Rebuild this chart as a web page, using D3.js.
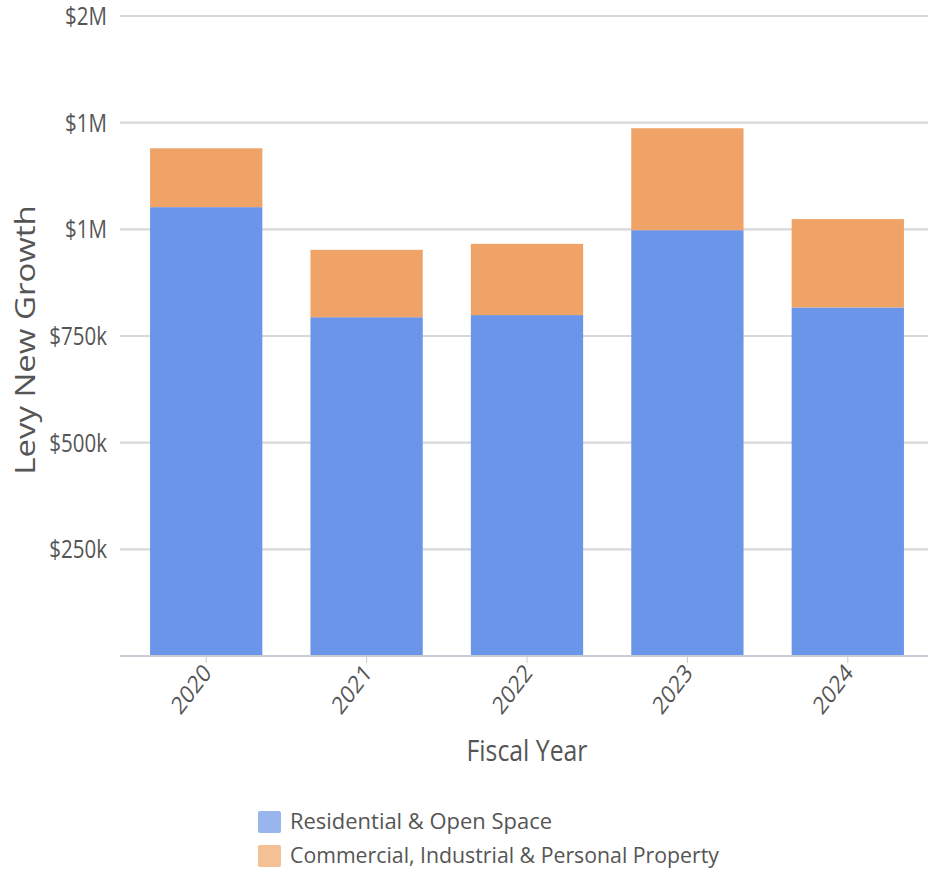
<!DOCTYPE html>
<html>
<head>
<meta charset="utf-8">
<script src="https://cdn.jsdelivr.net/npm/d3@7"></script>
<style>
  html, body { margin: 0; padding: 0; background: #fff; }
  svg { display: block; font-family: "Open Sans", "Noto Sans", sans-serif; }
</style>
</head>
<body>
<svg id="chart" width="928" height="872"></svg>
<script>
// Levy new growth by fiscal year, split by property class
const years = ["2020", "2021", "2022", "2023", "2024"];
const residential = [1052000, 794000, 799000, 998000, 817000];
const commercial = [138000, 158000, 167000, 239000, 207000];
const seriesNames = ["Residential & Open Space", "Commercial, Industrial & Personal Property"];
const yTickValues = [0, 250000, 500000, 750000, 1000000, 1250000, 1500000];

const colors = ["#6b95e8", "#f0a366"];
const swatchColors = ["#99b5ee", "#f5c094"];
const textColor = "#555";
const squeeze = 0.82; // horizontal condensing applied to the text

const svg = d3.select("#chart");

const rows = years.map((yr, i) => ({ year: yr, res: residential[i], com: commercial[i] }));
const stacked = d3.stack().keys(["res", "com"])(rows);

const x = d3.scaleBand().domain(years).range([126, 928]).paddingInner(0.3).paddingOuter(0.15);
const y = d3.scaleLinear().domain([0, 1500000]).range([656, 16]);

const fmt = v => v === 0 ? "" : (v >= 1e6 ? "$" + Math.round(v / 1e6) + "M" : "$" + (v / 1e3) + "k");

// horizontal gridlines
svg.append("g").selectAll("line")
  .data(yTickValues.filter(v => v > 0))
  .join("line")
  .attr("x1", 120).attr("x2", 928)
  .attr("y1", d => y(d)).attr("y2", d => y(d))
  .attr("stroke", "#d8d8d8").attr("stroke-width", 2.2);

// y tick labels
svg.append("g").selectAll("text")
  .data(yTickValues)
  .join("text")
  .attr("transform", d => `translate(107,${y(d)}) scale(${squeeze},1)`)
  .attr("dy", "0.36em")
  .attr("text-anchor", "end")
  .attr("font-size", 25)
  .attr("fill", textColor)
  .text(fmt);

// stacked bars
svg.append("g").selectAll("g")
  .data(stacked)
  .join("g")
  .attr("fill", (d, i) => colors[i])
  .selectAll("rect")
  .data(d => d)
  .join("rect")
  .attr("x", d => x(d.data.year))
  .attr("width", x.bandwidth())
  .attr("y", d => y(d[1]))
  .attr("height", d => y(d[0]) - y(d[1]));

// baseline and x axis
svg.append("line")
  .attr("x1", 120).attr("x2", 928)
  .attr("y1", y(0)).attr("y2", y(0))
  .attr("stroke", "#c6cbd4").attr("stroke-width", 2);

const xt = svg.append("g").selectAll("g")
  .data(years)
  .join("g");
xt.append("line")
  .attr("x1", d => x(d) + x.bandwidth() / 2)
  .attr("x2", d => x(d) + x.bandwidth() / 2)
  .attr("y1", y(0) + 1).attr("y2", y(0) + 7)
  .attr("stroke", "#ccc").attr("stroke-width", 1);
xt.append("text")
  .attr("transform", d => `translate(${x(d) + x.bandwidth() / 2 + 1},668) scale(${squeeze},1) rotate(-47)`)
  .attr("text-anchor", "end")
  .attr("dy", "0.36em")
  .attr("font-size", 25)
  .attr("fill", textColor)
  .text(d => d);

// axis titles
svg.append("text")
  .attr("transform", `translate(35,340) scale(${squeeze},1) rotate(-90)`)
  .attr("text-anchor", "middle")
  .attr("font-size", 33)
  .attr("fill", textColor)
  .text("Levy New Growth");

svg.append("text")
  .attr("x", 527).attr("y", 761)
  .attr("text-anchor", "middle")
  .attr("font-size", 30)
  .attr("fill", textColor)
  .attr("textLength", 121)
  .attr("lengthAdjust", "spacingAndGlyphs")
  .text("Fiscal Year");

// legend
const legendWidths = [262, 429];
const lg = svg.append("g").selectAll("g")
  .data(seriesNames)
  .join("g")
  .attr("transform", (d, i) => `translate(258,${811 + i * 34})`);
lg.append("rect")
  .attr("width", 23).attr("height", 22).attr("rx", 2)
  .attr("fill", (d, i) => swatchColors[i]);
lg.append("text")
  .attr("x", 32).attr("y", 18)
  .attr("font-size", 22)
  .attr("fill", textColor)
  .attr("textLength", (d, i) => legendWidths[i])
  .attr("lengthAdjust", "spacingAndGlyphs")
  .text(d => d);
</script>
</body>
</html>
